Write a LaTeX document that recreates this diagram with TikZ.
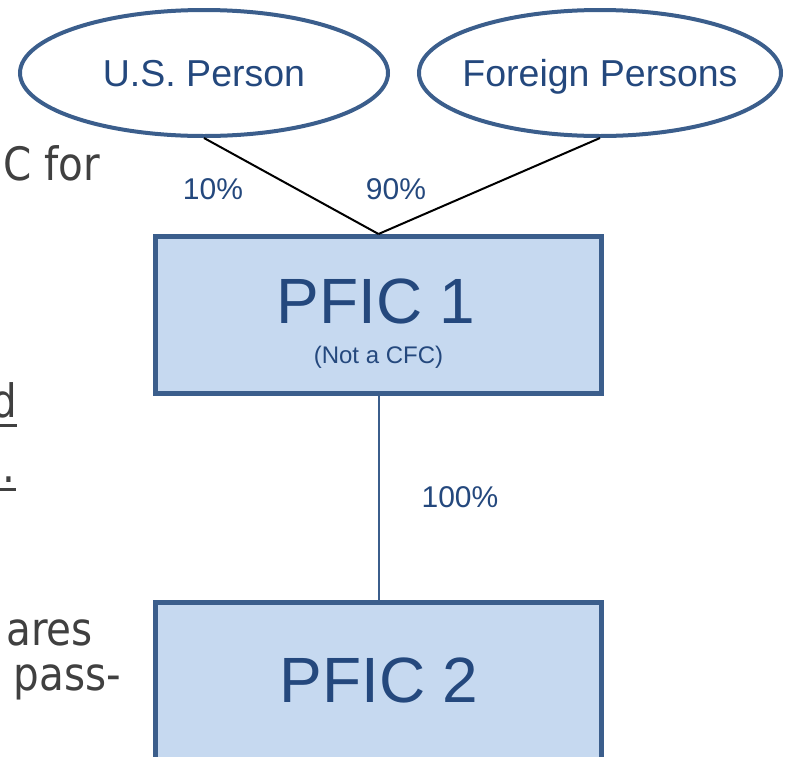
\documentclass[tikz,border=0pt]{standalone}
\usepackage{fontspec}
\setmainfont{Liberation Sans}
\newfontfamily\slidefont{DejaVu Sans}
\usetikzlibrary{shapes.geometric}
\definecolor{pficline}{RGB}{59,94,140}
\definecolor{pficfill}{RGB}{198,217,240}
\definecolor{pfictext}{RGB}{36,72,125}
\definecolor{slidegray}{RGB}{64,64,64}
\newcommand{\slidew}[1]{\scalebox{0.88}[1]{#1}}
\tikzset{
  owner/.style={ellipse, draw=pficline, line width=4pt, minimum width=366pt,
    minimum height=126pt, inner xsep=-14pt, inner ysep=0pt, text=pfictext,
    text depth=0pt, font=\fontsize{37.5}{40}\selectfont},
  pficbox/.style={rectangle, draw=pficline, fill=pficfill, line width=5pt,
    minimum width=446pt, inner sep=0pt},
  pficname/.style={text=pfictext, inner sep=0pt, font=\fontsize{64}{66}\selectfont},
  pct/.style={text=pfictext, inner sep=0pt, font=\fontsize{30}{32}\selectfont},
  slidetext/.style={text=slidegray, inner sep=0pt, anchor=base east,
    font=\slidefont\fontsize{46}{50}\selectfont},
  uline/.style={slidegray, line width=3pt}
}
\begin{document}
\begin{tikzpicture}[x=1pt,y=-1pt]
\useasboundingbox (0,0) rectangle (785,756);
\clip (0,0) rectangle (785,756);
% slide text cut off at the left
\node[slidetext] (frag1) at (100,180) {\slidew{C for}};
\node[slidetext] (frag2) at (17,417) {\slidew{d}};
\draw[uline] (0,425) -- (17,425);
\node[slidetext] (frag3) at (16,482) {\slidew{.}};
\draw[uline] (0,489) -- (16,489);
\node[slidetext] (frag4) at (93,645) {\slidew{ares}};
\node[slidetext] (frag5) at (121,690) {\slidew{pass-}};
% owners
\node[owner, minimum width=368pt] (usp) at (204,73) {U.S. Person};
\node[owner, minimum width=362pt] (forp) at (600,73) {Foreign Persons};
% the two PFICs
\node[pficbox, minimum height=157pt] (pfic1) at (378.5,315) {};
\node[pficname] (p1name) at (376,301.5) {PFIC 1};
\node[text=pfictext, inner sep=0pt, anchor=base, font=\fontsize{24}{26}\selectfont]
  (p1note) at (378.5,363) {(Not a CFC)};
\node[pficbox, minimum height=200pt] (pfic2) at (378.5,702.5) {};
\node[pficname] (p2name) at (379,680.5) {PFIC 2};
% ownership lines
\draw[line width=2pt] (usp.south) -- (pfic1.north);
\draw[line width=2pt] (forp.south) -- (pfic1.north);
\draw[pficline, line width=2pt] (pfic1.south) -- (pfic2.north);
\node[pct] (pus) at (213,189) {10\%};
\node[pct] (pfor) at (396,189) {90\%};
\node[pct] (psub) at (460,497.5) {100\%};
\end{tikzpicture}
\end{document}
